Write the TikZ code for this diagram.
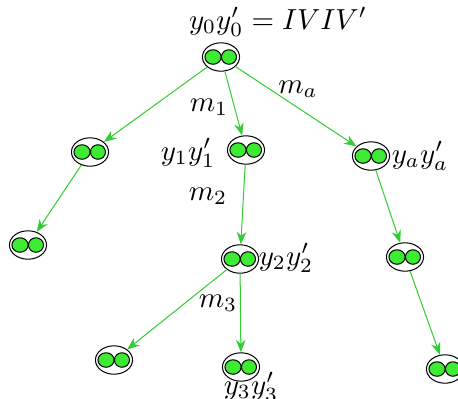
\documentclass[tikz,border=0pt]{standalone}
\usetikzlibrary{shapes.geometric,arrows.meta}
\definecolor{edgegreen}{RGB}{50,205,50}
\definecolor{ballgreen}{RGB}{60,235,50}
\tikzset{
  twin/.style={ellipse, draw=black, line width=0.35pt, minimum width=12.8pt, minimum height=9.8pt, inner sep=0pt,
    path picture={
      \draw[black, line width=0.35pt, fill=ballgreen] ([xshift=-2.75pt]path picture bounding box.center) ellipse [x radius=2.8pt, y radius=2.5pt];
      \draw[black, line width=0.35pt, fill=ballgreen] ([xshift=2.75pt]path picture bounding box.center) ellipse [x radius=2.6pt, y radius=2.5pt];
    }},
  conn/.style={draw=edgegreen, line width=0.35pt, -{Stealth[length=4.3pt,width=3.3pt]}},
  lab/.style={inner sep=0pt}
}
\begin{document}
\begin{tikzpicture}[x=0.345pt,y=-0.345pt]
\useasboundingbox (0,0) rectangle (458,398);
\node[twin] (r) at (221,57) {};
\node[twin] (n1) at (90,152) {};
\node[twin] (n2) at (246,150) {};
\node[twin] (na) at (371,156) {};
\node[twin] (n11) at (28,245) {};
\node[twin] (n21) at (240,259) {};
\node[twin] (na1) at (405,257) {};
\node[twin] (n211) at (114,360) {};
\node[twin] (n212) at (241,367) {};
\node[twin] (na11) at (445,369) {};
\draw[conn] (r) -- (n1);
\draw[conn] (r) -- (n2);
\draw[conn] (r) -- (na);
\draw[conn] (n1) -- (n11);
\draw[conn] (n2) -- (n21);
\draw[conn] (na) -- (na1);
\draw[conn] (n21) -- (n211);
\draw[conn] (n21) -- (n212);
\draw[conn] (na1) -- (na11);
\node[lab] (t0) at (278,22) {$y_0y_0' = IVIV'$};
\node[lab] (tm1) at (209,107) {$m_1$};
\node[lab] (tma) at (298,89) {$m_a$};
\node[lab] (t1) at (188,153) {$y_1y_1'$};
\node[lab] (tm2) at (208,196) {$m_2$};
\node[lab] (ta) at (420,156) {$y_ay_a'$};
\node[lab] (t2) at (286,258) {$y_2y_2'$};
\node[lab] (tm3) at (218,303) {$m_3$};
\node[lab] (t3) at (251,387) {$y_3y_3'$};
\end{tikzpicture}
\end{document}
